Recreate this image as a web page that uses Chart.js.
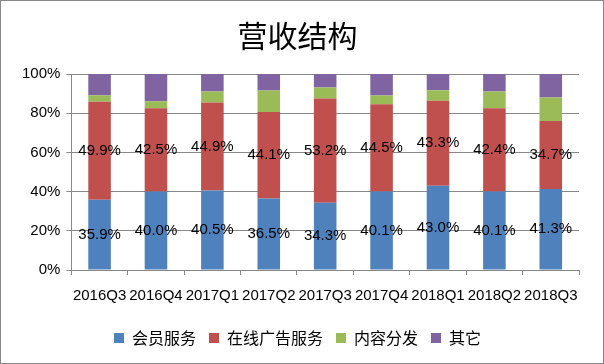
<!DOCTYPE html>
<html>
<head>
<meta charset="utf-8">
<script src="https://cdn.jsdelivr.net/npm/chart.js@4/dist/chart.umd.min.js"></script>
<style>
  html, body { margin: 0; padding: 0; background: #fff; }
  #wrap { width: 604px; height: 364px; }
</style>
</head>
<body>
<div id="wrap"><canvas id="miGrafico"></canvas></div>
<script>
var quarters = ['2016Q3', '2016Q4', '2017Q1', '2017Q2', '2017Q3', '2017Q4', '2018Q1', '2018Q2', '2018Q3'];
var huiyuan = [35.9, 40.0, 40.5, 36.5, 34.3, 40.1, 43.0, 40.1, 41.3];
var guanggao = [49.9, 42.5, 44.9, 44.1, 53.2, 44.5, 43.3, 42.4, 34.7];
var neirong = [3.4, 3.6, 5.7, 11.0, 5.6, 4.4, 5.4, 8.6, 12.0];
var qita = [10.8, 13.9, 8.9, 8.4, 6.9, 11.0, 8.3, 8.9, 12.0];
var yTicks = [0, 20, 40, 60, 80, 100];

var fuente = "'Liberation Sans', 'Noto Sans CJK SC', sans-serif";

// etiquetas dentro de las barras (solo las dos primeras series)
var etiquetas = {
    id: 'etiquetas',
    afterDatasetsDraw: function(chart) {
        var ctx = chart.ctx;
        ctx.save();
        ctx.font = "15px " + fuente;
        ctx.fillStyle = '#000';
        ctx.textAlign = 'center';
        ctx.textBaseline = 'middle';
        [0, 1].forEach(function(d) {
            var meta = chart.getDatasetMeta(d);
            meta.data.forEach(function(bar, i) {
                var v = chart.data.datasets[d].data[i];
                ctx.fillText(v.toFixed(1) + '%', bar.x, (bar.y + bar.base) / 2);
            });
        });
        ctx.restore();
    }
};

var marco = {
    id: 'marco',
    afterDraw: function(chart) {
        var ctx = chart.ctx;
        ctx.save();
        ctx.strokeStyle = '#888';
        ctx.lineWidth = 1;
        ctx.strokeRect(0.5, 0.5, chart.width - 1, chart.height - 1);
        ctx.restore();
    }
};

new Chart(document.getElementById('miGrafico'), {
    type: 'bar',
    data: {
        labels: quarters,
        datasets: [
            { label: '会员服务', data: huiyuan, backgroundColor: '#4F81BD' },
            { label: '在线广告服务', data: guanggao, backgroundColor: '#C0504D' },
            { label: '内容分发', data: neirong, backgroundColor: '#9BBB59' },
            { label: '其它', data: qita, backgroundColor: '#8064A2' }
        ]
    },
    options: {
        responsive: true,
        maintainAspectRatio: false,
        animation: false,
        datasets: { bar: { barPercentage: 0.4, categoryPercentage: 1.0 } },
        layout: { padding: { left: 16, right: 25, top: 4, bottom: 8 } },
        plugins: {
            title: {
                display: true,
                text: '营收结构',
                color: '#000',
                font: { family: "'Noto Sans CJK SC', sans-serif", size: 30, weight: 'normal' },
                padding: { top: 14, bottom: 20 }
            },
            legend: {
                position: 'bottom',
                labels: {
                    color: '#000',
                    boxWidth: 10,
                    boxHeight: 10,
                    padding: 13,
                    font: { family: "'Noto Sans CJK SC', sans-serif", size: 16 }
                }
            },
            tooltip: { enabled: false }
        },
        scales: {
            x: {
                stacked: true,
                grid: { drawOnChartArea: false, color: '#888', tickLength: 5 },
                border: { color: '#888' },
                ticks: { color: '#000', maxRotation: 0, autoSkip: false, padding: 12, font: { family: fuente, size: 15 } }
            },
            y: {
                stacked: true,
                min: 0,
                max: 100,
                afterBuildTicks: function(axis) {
                    axis.ticks = yTicks.map(function(v) { return { value: v }; });
                },
                grid: { color: '#888', tickLength: 5 },
                border: { color: '#888' },
                ticks: {
                    color: '#000',
                    padding: 6,
                    font: { family: fuente, size: 15 },
                    callback: function(v) { return v + '%'; }
                }
            }
        }
    },
    plugins: [etiquetas, marco]
});
</script>
</body>
</html>
